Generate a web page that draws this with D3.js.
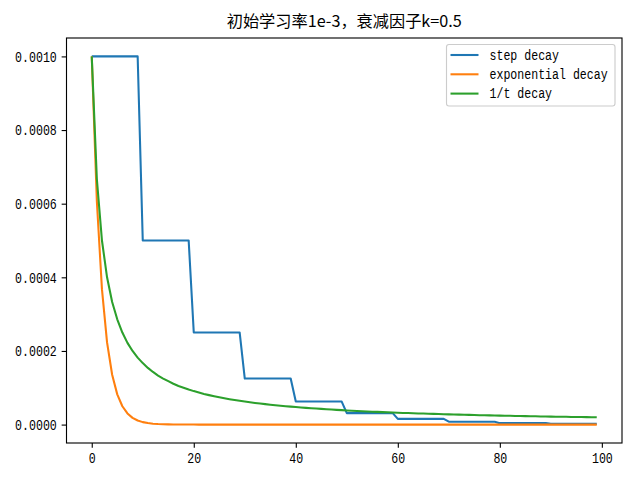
<!DOCTYPE html>
<html><head><meta charset="utf-8">
<script src="https://cdn.jsdelivr.net/npm/d3@7"></script>
<style>body{margin:0;background:#fff}svg{display:block}</style>
</head><body>
<script>
const titleText = "初始学习率1e-3，衰减因子k=0.5";
const seriesNames = ["step decay", "exponential decay", "1/t decay"];
const epochs = d3.range(100);
const stepDecay = [
0.001,0.001,0.001,0.001,0.001,0.001,0.001,0.001,0.001,0.001,
0.0005,0.0005,0.0005,0.0005,0.0005,0.0005,0.0005,0.0005,0.0005,0.0005,
0.00025,0.00025,0.00025,0.00025,0.00025,0.00025,0.00025,0.00025,0.00025,0.00025,
0.000125,0.000125,0.000125,0.000125,0.000125,0.000125,0.000125,0.000125,0.000125,0.000125,
6.25e-5,6.25e-5,6.25e-5,6.25e-5,6.25e-5,6.25e-5,6.25e-5,6.25e-5,6.25e-5,6.25e-5,
3.125e-5,3.125e-5,3.125e-5,3.125e-5,3.125e-5,3.125e-5,3.125e-5,3.125e-5,3.125e-5,3.125e-5,
1.5625e-5,1.5625e-5,1.5625e-5,1.5625e-5,1.5625e-5,1.5625e-5,1.5625e-5,1.5625e-5,1.5625e-5,1.5625e-5,
7.8e-6,7.8e-6,7.8e-6,7.8e-6,7.8e-6,7.8e-6,7.8e-6,7.8e-6,7.8e-6,7.8e-6,
3.9e-6,3.9e-6,3.9e-6,3.9e-6,3.9e-6,3.9e-6,3.9e-6,3.9e-6,3.9e-6,3.9e-6,
2.0e-6,2.0e-6,2.0e-6,2.0e-6,2.0e-6,2.0e-6,2.0e-6,2.0e-6,2.0e-6,2.0e-6];
const expDecay = [
1.0e-3,6.065e-4,3.679e-4,2.231e-4,1.353e-4,8.21e-5,4.98e-5,3.02e-5,1.83e-5,1.11e-5,
6.7e-6,4.1e-6,2.5e-6,1.5e-6,9.1e-7,5.5e-7,3.4e-7,2.0e-7,1.2e-7,7.5e-8,
4.5e-8,0,0,0,0,0,0,0,0,0,
0,0,0,0,0,0,0,0,0,0,
0,0,0,0,0,0,0,0,0,0,
0,0,0,0,0,0,0,0,0,0,
0,0,0,0,0,0,0,0,0,0,
0,0,0,0,0,0,0,0,0,0,
0,0,0,0,0,0,0,0,0,0,
0,0,0,0,0,0,0,0,0,0];
const invTDecay = [
1.0e-3,6.67e-4,5.0e-4,4.0e-4,3.33e-4,2.86e-4,2.5e-4,2.22e-4,2.0e-4,1.82e-4,
1.67e-4,1.54e-4,1.43e-4,1.33e-4,1.25e-4,1.18e-4,1.11e-4,1.05e-4,1.0e-4,9.52e-5,
9.09e-5,8.70e-5,8.33e-5,8.0e-5,7.69e-5,7.41e-5,7.14e-5,6.90e-5,6.67e-5,6.45e-5,
6.25e-5,6.06e-5,5.88e-5,5.71e-5,5.56e-5,5.41e-5,5.26e-5,5.13e-5,5.0e-5,4.88e-5,
4.76e-5,4.65e-5,4.55e-5,4.44e-5,4.35e-5,4.26e-5,4.17e-5,4.08e-5,4.0e-5,3.92e-5,
3.85e-5,3.77e-5,3.70e-5,3.64e-5,3.57e-5,3.51e-5,3.45e-5,3.39e-5,3.33e-5,3.28e-5,
3.23e-5,3.17e-5,3.13e-5,3.08e-5,3.03e-5,2.99e-5,2.94e-5,2.90e-5,2.86e-5,2.82e-5,
2.78e-5,2.74e-5,2.70e-5,2.67e-5,2.63e-5,2.60e-5,2.56e-5,2.53e-5,2.50e-5,2.47e-5,
2.44e-5,2.41e-5,2.38e-5,2.35e-5,2.33e-5,2.30e-5,2.27e-5,2.25e-5,2.22e-5,2.20e-5,
2.17e-5,2.15e-5,2.13e-5,2.11e-5,2.08e-5,2.06e-5,2.04e-5,2.02e-5,2.0e-5,1.98e-5];
const xTicks = [0, 20, 40, 60, 80, 100];
const yTicks = [0, 0.0002, 0.0004, 0.0006, 0.0008, 0.0010];
const colors = ["#1f77b4", "#ff7f0e", "#2ca02c"];

const W = 640, H = 480;
const m = {left: 66.5, right: 622, top: 38, bottom: 443};
const svg = d3.select("body").append("svg").attr("width", W).attr("height", H);
const x = d3.scaleLinear().domain([-4.95, 103.95]).range([m.left, m.right]);
const y = d3.scaleLinear().domain([-0.00005, 0.00105]).range([m.bottom, m.top]);

const monoFont = "'Liberation Mono', 'DejaVu Sans Mono', monospace";

// lines
const series = [stepDecay, expDecay, invTDecay];
const line = d3.line().x((d, i) => x(epochs[i])).y(d => y(d));
const clipId = "clip";
svg.append("clipPath").attr("id", clipId).append("rect")
  .attr("x", m.left).attr("y", m.top).attr("width", m.right - m.left).attr("height", m.bottom - m.top);
series.forEach((s, k) => {
  svg.append("path").datum(s).attr("d", line)
    .attr("fill", "none").attr("stroke", colors[k]).attr("stroke-width", 2.08)
    .attr("stroke-linejoin", "round").attr("stroke-linecap", "butt")
    .attr("clip-path", `url(#${clipId})`);
});

// axes
const xAxis = d3.axisBottom(x).tickValues(xTicks).tickSize(4.86).tickPadding(4.86).tickFormat(d3.format("d"));
const yAxis = d3.axisLeft(y).tickValues(yTicks).tickSize(4.86).tickPadding(4.86).tickFormat(d3.format(".4f"));
const gx = svg.append("g").attr("transform", `translate(0,${m.bottom})`).call(xAxis);
const gy = svg.append("g").attr("transform", `translate(${m.left},0)`).call(yAxis);
[gx, gy].forEach(g => {
  g.select(".domain").remove();
  g.selectAll(".tick line").attr("stroke", "#000").attr("stroke-width", 1.11);
  g.selectAll(".tick text").attr("fill", "#000").attr("font-family", monoFont).attr("font-size", 13.9)
    .each(function() { const t = d3.select(this); t.attr("textLength", t.text().length * 6.95).attr("lengthAdjust", "spacingAndGlyphs"); });
});
gx.selectAll(".tick text").attr("dy", "0.71em");
gy.selectAll(".tick text").attr("dy", "0.35em");

// frame
svg.append("rect").attr("x", m.left).attr("y", m.top).attr("width", m.right - m.left).attr("height", m.bottom - m.top)
  .attr("fill", "none").attr("stroke", "#000").attr("stroke-width", 1.11);

// title
svg.append("text").attr("x", (m.left + m.right) / 2).attr("y", 27).attr("text-anchor", "middle")
  .attr("font-family", "'Noto Sans CJK SC', sans-serif").attr("font-size", 16.2).attr("fill", "#000").text(titleText);

// legend
const lg = svg.append("g");
lg.append("rect").attr("x", 446.5).attr("y", 44.5).attr("width", 168.5).attr("height", 61.5).attr("rx", 2.5)
  .attr("fill", "#fff").attr("fill-opacity", 0.8).attr("stroke", "#cccccc").attr("stroke-width", 1.11);
seriesNames.forEach((name, k) => {
  const yy = 55 + k * 19.3;
  lg.append("line").attr("x1", 450.5).attr("x2", 478.5).attr("y1", yy).attr("y2", yy)
    .attr("stroke", colors[k]).attr("stroke-width", 2.08);
  lg.append("text").attr("x", 489.5).attr("y", yy).attr("dy", "0.35em")
    .attr("font-family", monoFont).attr("font-size", 13.9).attr("fill", "#000")
    .attr("textLength", name.length * 6.95).attr("lengthAdjust", "spacingAndGlyphs").text(name);
});
</script>
</body></html>
